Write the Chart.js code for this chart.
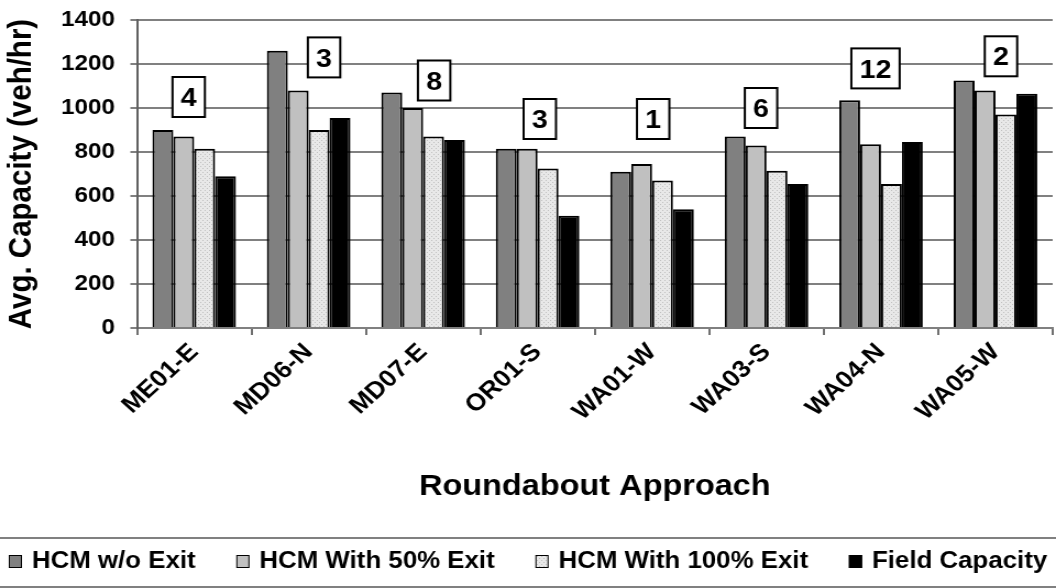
<!DOCTYPE html>
<html>
<head>
<meta charset="utf-8">
<script src="https://cdn.jsdelivr.net/npm/chart.js@4/dist/chart.umd.min.js"></script>
<style>
  body { margin: 0; background: #fff; overflow: hidden; }
  /* the source figure is stretched sideways by about 1.1, so draw narrow and widen */
  #wrap { width: 960px; height: 588px; transform: scaleX(1.1); transform-origin: 0 0; }
</style>
</head>
<body>
<div id="wrap"><canvas id="cap" width="960" height="588"></canvas></div>
<script>
const approaches = ['ME01-E', 'MD06-N', 'MD07-E', 'OR01-S', 'WA01-W', 'WA03-S', 'WA04-N', 'WA05-W'];
const hcmNoExit = [900, 1260, 1070, 815, 710, 870, 1035, 1125];
const hcm50Exit = [870, 1080, 1000, 815, 745, 830, 835, 1080];
const hcm100Exit = [815, 900, 870, 725, 670, 715, 655, 970];
const fieldCap = [690, 955, 855, 510, 540, 655, 845, 1065];
const siteCounts = ['4', '3', '8', '3', '1', '6', '12', '2'];
const yTicks = [0, 200, 400, 600, 800, 1000, 1200, 1400];

const FONT = '"Liberation Sans", Arial, sans-serif';

// light grey fill with a fine dot texture, like the 100% exit bars
function dotFill() {
  const c = document.createElement('canvas');
  c.width = c.height = 4;
  const g = c.getContext('2d');
  g.fillStyle = '#e8e8e8';
  g.fillRect(0, 0, 4, 4);
  g.fillStyle = '#c0c0c0';
  g.fillRect(0, 0, 1, 1);
  g.fillRect(2, 2, 1, 1);
  return g.createPattern(c, 'repeat');
}

// where the small count boxes sit (value units + px nudge)
const noteSpots = {
  at: [1050, 1230, 1125, 950, 950, 1000, 1180, 1235],
  dx: [-5, 14, 10, 2, 1, -5, -5, 5]
};

const countBoxes = {
  id: 'countBoxes',
  afterDatasetsDraw(chart) {
    const { ctx, scales: { x, y } } = chart;
    ctx.save();
    ctx.font = 'bold 26px ' + FONT;
    ctx.textAlign = 'center';
    ctx.textBaseline = 'middle';
    siteCounts.forEach((txt, i) => {
      const cx = x.getPixelForValue(i) + noteSpots.dx[i];
      const cy = y.getPixelForValue(noteSpots.at[i]);
      const w = ctx.measureText(txt).width + 15;
      const h = 40;
      ctx.fillStyle = '#fff';
      ctx.fillRect(cx - w / 2, cy - h / 2, w, h);
      ctx.lineWidth = 2;
      ctx.strokeStyle = '#000';
      ctx.strokeRect(cx - w / 2, cy - h / 2, w, h);
      ctx.fillStyle = '#000';
      ctx.fillText(txt, cx, cy + 2);
    });
    ctx.restore();
  }
};

// legend strip between two grey rules at the bottom
const legendStrip = {
  id: 'legendStrip',
  afterDraw(chart) {
    const { ctx } = chart;
    const top = 538, bottom = 587, mid = 561;
    const gap = 37, box = 12, fs = 23.5, pad = 9;
    ctx.save();
    ctx.strokeStyle = '#808080';
    ctx.lineWidth = 2;
    [top, bottom].forEach(yy => {
      ctx.beginPath();
      ctx.moveTo(0, yy);
      ctx.lineTo(chart.width, yy);
      ctx.stroke();
    });
    ctx.font = 'bold ' + fs + 'px ' + FONT;
    ctx.textBaseline = 'middle';
    ctx.textAlign = 'left';
    const sets = chart.data.datasets;
    const widths = sets.map(d => box + pad + ctx.measureText(d.label).width);
    const total = widths.reduce((a, b) => a + b, 0) + gap * (sets.length - 1);
    let cx = (chart.width - total) / 2;
    sets.forEach((d, i) => {
      ctx.fillStyle = d.backgroundColor;
      ctx.fillRect(cx, mid - 6, box, 13);
      ctx.lineWidth = 1;
      ctx.strokeStyle = '#000';
      ctx.strokeRect(cx + 0.5, mid - 5.5, box - 1, 12);
      ctx.fillStyle = '#000';
      ctx.fillText(d.label, cx + box + pad, mid + 1);
      cx += widths[i] + gap;
    });
    ctx.restore();
  }
};

const bar = (label, data, fill) => ({
  label, data,
  backgroundColor: fill,
  borderColor: '#000',
  borderWidth: 2,
  categoryPercentage: 0.73,
  barPercentage: 1
});

new Chart(document.getElementById('cap'), {
  type: 'bar',
  data: {
    labels: approaches,
    datasets: [
      bar('HCM w/o Exit', hcmNoExit, '#808080'),
      bar('HCM With 50% Exit', hcm50Exit, '#c0c0c0'),
      bar('HCM With 100% Exit', hcm100Exit, dotFill()),
      bar('Field Capacity', fieldCap, '#000000')
    ]
  },
  options: {
    responsive: false,
    animation: false,
    layout: { padding: { top: 20, right: 3, left: 2, bottom: 52 } },
    scales: {
      x: {
        grid: { offset: true, drawOnChartArea: false, drawTicks: true, tickLength: 7, color: '#707070', lineWidth: 2 },
        border: { color: '#808080', width: 2 },
        ticks: { color: '#000', font: { family: FONT, size: 24, weight: 'bold' }, minRotation: 45, maxRotation: 45, padding: 3 },
        title: { display: true, text: 'Roundabout Approach', color: '#000', font: { family: FONT, size: 29.5, weight: 'bold' }, padding: { top: 0, bottom: 31 } },
        afterFit(s) { s.height = 208; }
      },
      y: {
        min: 0, max: 1400,
        afterBuildTicks(s) { s.ticks = yTicks.map(v => ({ value: v })); },
        grid: { color: '#808080', lineWidth: 2, tickLength: 6 },
        border: { color: '#606060', width: 2 },
        ticks: { color: '#000', padding: 14, font: { family: FONT, size: 22, weight: 'bold' }, callback: v => String(v) },
        title: { display: true, text: 'Avg. Capacity (veh/hr)', color: '#000', font: { family: FONT, size: 29.5, weight: 'bold' }, padding: 0 },
        afterFit(s) { s.width = 122.5; s.paddingTop = 0; s.paddingBottom = 0; }
      }
    },
    plugins: {
      legend: { display: false },
      tooltip: { enabled: false }
    }
  },
  plugins: [countBoxes, legendStrip]
});
</script>
</body>
</html>
